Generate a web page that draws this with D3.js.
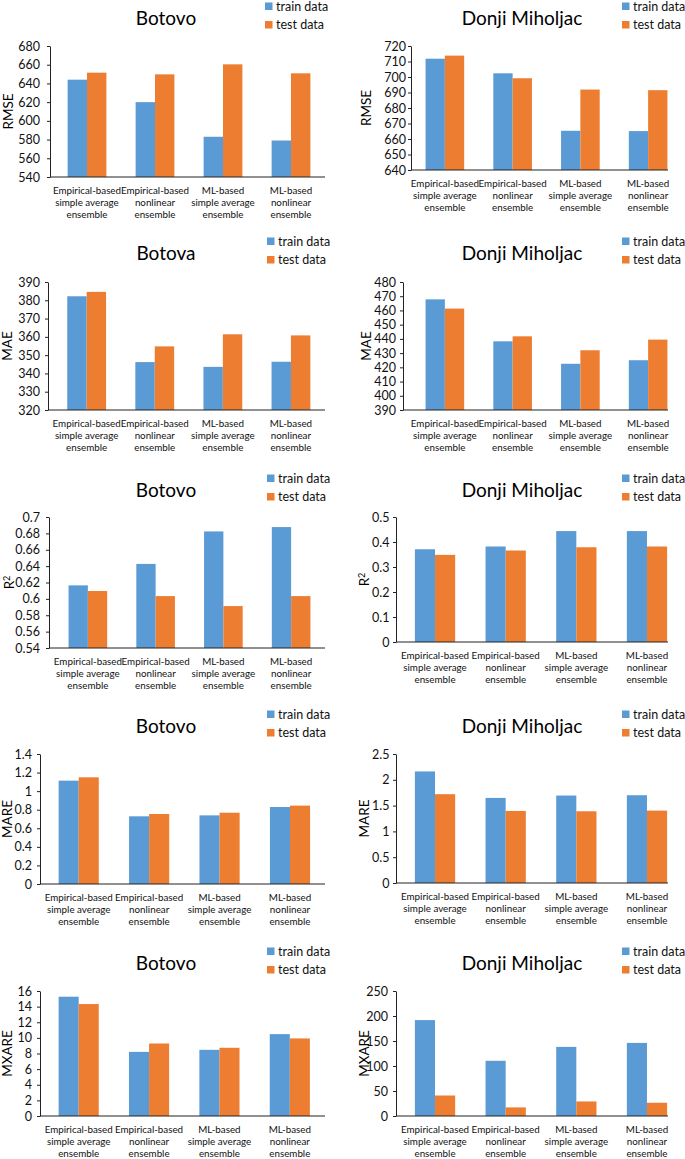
<!DOCTYPE html>
<html>
<head>
<meta charset="utf-8">
<script src="https://cdn.jsdelivr.net/npm/d3@7"></script>
<style>
  html, body { margin: 0; padding: 0; background: #fff; }
  svg { display: block; font-family: Lato, "Open Sans", sans-serif; }
</style>
</head>
<body>
<svg id="chart" width="685" height="1159"></svg>
<script>
// ---------- DATA ----------
const categories = [
  "Empirical-based simple average ensemble",
  "Empirical-based nonlinear ensemble",
  "ML-based simple average ensemble",
  "ML-based nonlinear ensemble"
];
const categoryLines = [
  ["Empirical-based", "simple average", "ensemble"],
  ["Empirical-based", "nonlinear", "ensemble"],
  ["ML-based", "simple average", "ensemble"],
  ["ML-based", "nonlinear", "ensemble"]
];
const seriesNames = ["train data", "test data"];

const rmseBotovoTrain = [644, 620, 583, 579];
const rmseBotovoTest  = [651.5, 649.7, 660.4, 650.8];
const rmseBotovoTicks = [540, 560, 580, 600, 620, 640, 660, 680];

const rmseDonjiTrain = [711.8, 702.4, 665.3, 665.1];
const rmseDonjiTest  = [713.8, 699.2, 691.9, 691.5];
const rmseDonjiTicks = [640, 650, 660, 670, 680, 690, 700, 710, 720];

const maeBotovaTrain = [382.2, 346.2, 343.6, 346.4];
const maeBotovaTest  = [384.6, 354.8, 361.4, 360.8];
const maeBotovaTicks = [320, 330, 340, 350, 360, 370, 380, 390];

const maeDonjiTrain = [467.8, 438.3, 422.5, 425.0];
const maeDonjiTest  = [461.3, 441.8, 432.0, 439.5];
const maeDonjiTicks = [390, 400, 410, 420, 430, 440, 450, 460, 470, 480];

const r2BotovoTrain = [0.6165, 0.6427, 0.6824, 0.6877];
const r2BotovoTest  = [0.6096, 0.6034, 0.5912, 0.6034];
const r2BotovoTicks = [0.54, 0.56, 0.58, 0.6, 0.62, 0.64, 0.66, 0.68, 0.7];

const r2DonjiTrain = [0.371, 0.382, 0.4437, 0.4437];
const r2DonjiTest  = [0.3485, 0.366, 0.379, 0.382];
const r2DonjiTicks = [0, 0.1, 0.2, 0.3, 0.4, 0.5];

const mareBotovoTrain = [1.113, 0.729, 0.739, 0.829];
const mareBotovoTest  = [1.149, 0.754, 0.768, 0.844];
const mareBotovoTicks = [0, 0.2, 0.4, 0.6, 0.8, 1, 1.2, 1.4];

const mareDonjiTrain = [2.162, 1.649, 1.695, 1.701];
const mareDonjiTest  = [1.721, 1.396, 1.39, 1.403];
const mareDonjiTicks = [0, 0.5, 1, 1.5, 2, 2.5];

const mxareBotovoTrain = [15.27, 8.21, 8.47, 10.48];
const mxareBotovoTest  = [14.33, 9.28, 8.73, 9.93];
const mxareBotovoTicks = [0, 2, 4, 6, 8, 10, 12, 14, 16];

const mxareDonjiTrain = [191.8, 110.4, 138.2, 146.2];
const mxareDonjiTest  = [41.0, 17.2, 29.1, 26.5];
const mxareDonjiTicks = [0, 50, 100, 150, 200, 250];

// ---------- PANELS (data refs + layout) ----------
const panels = [
  { title: "Botovo", ylabel: "RMSE", train: rmseBotovoTrain, test: rmseBotovoTest, ticks: rmseBotovoTicks,
    left: 50, axisEnd: 325, band: [53, 325], top: 46, bottom: 177, tY: 25, tX: 166, legX: 265, ylX: 8, pad: 7 },
  { title: "Donji Miholjac", ylabel: "RMSE", train: rmseDonjiTrain, test: rmseDonjiTest, ticks: rmseDonjiTicks,
    left: 411, axisEnd: 668, band: [411, 682], top: 46, bottom: 170, tY: 25, tX: 522, legX: 622, ylX: 366, pad: 2 },
  { title: "Botova", ylabel: "MAE", train: maeBotovaTrain, test: maeBotovaTest, ticks: maeBotovaTicks,
    left: 48, axisEnd: 325, band: [52.6, 325], top: 282, bottom: 410, tY: 260, tX: 166, legX: 267, ylX: 7, pad: 5 },
  { title: "Donji Miholjac", ylabel: "MAE", train: maeDonjiTrain, test: maeDonjiTest, ticks: maeDonjiTicks,
    left: 403, axisEnd: 668, band: [411, 682], top: 282, bottom: 410, tY: 260, tX: 522, legX: 622, ylX: 366, pad: 4 },
  { title: "Botovo", ylabel: "R2", train: r2BotovoTrain, test: r2BotovoTest, ticks: r2BotovoTicks,
    left: 49, axisEnd: 325, band: [54, 325], top: 517, bottom: 648, tY: 497, tX: 166, legX: 267, ylX: 9, pad: 6 },
  { title: "Donji Miholjac", ylabel: "R2", train: r2DonjiTrain, test: r2DonjiTest, ticks: r2DonjiTicks,
    left: 396, axisEnd: 668, band: [399.7, 682.3], top: 517, bottom: 642, tY: 497, tX: 522, legX: 622, ylX: 364, pad: 3.5 },
  { title: "Botovo", ylabel: "MARE", train: mareBotovoTrain, test: mareBotovoTest, ticks: mareBotovoTicks,
    left: 40, axisEnd: 325, band: [43.5, 325.2], top: 754, bottom: 884, tY: 733, tX: 166, legX: 267, ylX: 7, pad: 5 },
  { title: "Donji Miholjac", ylabel: "MARE", train: mareDonjiTrain, test: mareDonjiTest, ticks: mareDonjiTicks,
    left: 396, axisEnd: 668, band: [399.7, 682.3], top: 754, bottom: 883, tY: 733, tX: 522, legX: 622, ylX: 364, pad: 3.5 },
  { title: "Botovo", ylabel: "MXARE", train: mxareBotovoTrain, test: mxareBotovoTest, ticks: mxareBotovoTicks,
    left: 40, axisEnd: 325, band: [43.5, 325], top: 991, bottom: 1116, tY: 970, tX: 166, legX: 267, ylX: 7, pad: 5 },
  { title: "Donji Miholjac", ylabel: "MXARE", train: mxareDonjiTrain, test: mxareDonjiTest, ticks: mxareDonjiTicks,
    left: 396, axisEnd: 668, band: [399.7, 682.3], top: 991, bottom: 1116, tY: 970, tX: 522, legX: 622, ylX: 364, pad: 5 }
];

const colors = { "train data": "#5B9BD5", "test data": "#ED7D31" };
const fmt = v => String(+v.toFixed(6));

const svg = d3.select("#chart");

panels.forEach(p => {
  const g = svg.append("g");
  const ticks = p.ticks;
  const y = d3.scaleLinear().domain([ticks[0], ticks[ticks.length - 1]]).range([p.bottom, p.top]);
  const x = d3.scaleBand().domain(categories).range(p.band).paddingInner(0.43).paddingOuter(0.215);
  const xs = d3.scaleBand().domain(seriesNames).range([0, x.bandwidth()]);

  // bars
  const rows = categories.map((c, i) => ({ cat: c, values: [
    { s: "train data", v: p.train[i] }, { s: "test data", v: p.test[i] } ] }));
  g.selectAll("g.cat").data(rows).join("g")
    .attr("transform", d => `translate(${x(d.cat)},0)`)
    .selectAll("rect").data(d => d.values).join("rect")
      .attr("x", d => xs(d.s))
      .attr("width", xs.bandwidth())
      .attr("y", d => y(d.v))
      .attr("height", d => y(ticks[0]) - y(d.v))
      .attr("fill", d => colors[d.s]);

  // y axis
  const ya = g.append("g")
    .attr("transform", `translate(${p.left},0)`)
    .call(d3.axisLeft(y).tickValues(ticks).tickFormat(fmt).tickSize(3).tickSizeOuter(0).tickPadding(p.pad));
  ya.select(".domain").attr("stroke", "#222");
  ya.selectAll(".tick line").attr("stroke", "#222");
  ya.selectAll(".tick text").attr("font-size", 12.5).attr("fill", "#111")
    .attr("font-family", "Lato, sans-serif");

  // x axis line
  g.append("line")
    .attr("x1", p.left).attr("x2", p.axisEnd)
    .attr("y1", y(ticks[0])).attr("y2", y(ticks[0]))
    .attr("stroke", "#222").attr("stroke-width", 1);

  // category labels
  categories.forEach((c, i) => {
    const t = g.append("text")
      .attr("text-anchor", "middle")
      .attr("font-size", 9.8).attr("fill", "#111");
    categoryLines[i].forEach((ln, j) => {
      t.append("tspan").attr("x", x(c) + x.bandwidth() / 2)
        .attr("y", y(ticks[0]) + 16.5 + j * 12.3).text(ln);
    });
  });

  // title
  g.append("text").attr("x", p.tX).attr("y", p.tY)
    .attr("text-anchor", "middle").attr("font-size", 19).attr("fill", "#000")
    .text(p.title);

  // y label
  const yl = g.append("text")
    .attr("transform", `translate(${p.ylX + 5},${(p.top + p.bottom) / 2}) rotate(-90)`)
    .attr("text-anchor", "middle").attr("font-size", 13.5).attr("fill", "#000");
  if (p.ylabel === "R2") {
    yl.append("tspan").text("R");
    yl.append("tspan").attr("font-size", 9).attr("dy", -4).text("2");
  } else {
    yl.text(p.ylabel);
  }

  // legend
  seriesNames.forEach((s, k) => {
    const by = p.tY - 14.5 + k * 18.5;
    g.append("rect").attr("x", p.legX).attr("y", by - 8).attr("width", 7.5).attr("height", 7.5)
      .attr("fill", colors[s]);
    g.append("text").attr("x", p.legX + 11).attr("y", by)
      .attr("font-size", 12.5).attr("fill", "#111").text(s);
  });
});
</script>
</body>
</html>
